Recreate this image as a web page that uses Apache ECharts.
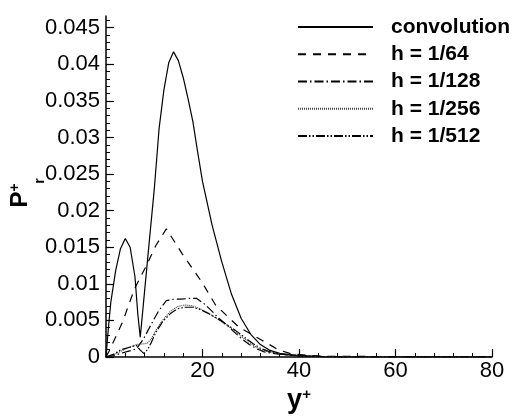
<!DOCTYPE html>
<html>
<head>
<meta charset="utf-8">
<script src="https://cdn.jsdelivr.net/npm/echarts@6/dist/echarts.min.js"></script>
<style>
  html, body { margin: 0; padding: 0; background: #fff; }
  #chart { width: 522px; height: 419px; }
</style>
</head>
<body>
<div id="chart"></div>
<script>
// Distribution P_r^+ versus wall distance y^+
const yTickLabels = [0, 0.005, 0.01, 0.015, 0.02, 0.025, 0.03, 0.035, 0.04, 0.045];
const xTickLabels = [20, 40, 60, 80];

const seriesNames = ['convolution', 'h = 1/64', 'h = 1/128', 'h = 1/256', 'h = 1/512'];

const convX = [0, 0.5, 1, 2, 3, 4, 5, 6, 6.6, 7.1, 8, 9, 10, 11, 12, 13, 14, 15, 16, 17, 18, 19, 20, 22, 24, 26, 28, 30, 32, 34, 36, 40, 45, 50, 80];
const convY = [0, 0.004, 0.0075, 0.0118, 0.0148, 0.0162, 0.0150, 0.0110, 0.0058, 0.0027, 0.0090, 0.0160, 0.0229, 0.0312, 0.0365, 0.0402, 0.0417, 0.0405, 0.0382, 0.0353, 0.0322, 0.0280, 0.0240, 0.0180, 0.0130, 0.0086, 0.0053, 0.0031, 0.0017, 0.0009, 0.0005, 0.0002, 0.00005, 0, 0];

const h64X = [0, 0.8, 3.5, 5.9, 8.3, 10.3, 12.5, 15.8, 19.9, 22.7, 27.5, 32.3, 35.7, 38.5, 45, 80];
const h64Y = [0, 0.001, 0.0049, 0.0093, 0.0124, 0.0152, 0.0175, 0.0141, 0.0102, 0.0071, 0.0041, 0.0023, 0.0010, 0.0004, 0.0001, 0];

const h128X = [0, 1.6, 3.1, 4.7, 6.3, 7.8, 9.4, 10.9, 12.5, 14.1, 15.6, 17.2, 18.8, 20.3, 21.9, 23.4, 25, 26.6, 28.1, 29.7, 31.3, 32.8, 34.4, 37.5, 40.6, 50, 80];
const h128Y = [0, 0.0002, 0.0005, 0.0008, 0.0011, 0.0025, 0.0045, 0.0063, 0.0077, 0.0079, 0.0079, 0.0080, 0.0080, 0.0073, 0.0063, 0.0053, 0.0044, 0.0034, 0.0025, 0.0017, 0.0011, 0.0007, 0.0005, 0.0003, 0.0001, 0, 0];

const h256X = [0, 1.6, 3.1, 4.7, 6.3, 7.8, 8.6, 9.4, 10.2, 11.7, 13.3, 14.8, 16.4, 18, 19.5, 21.1, 22.7, 24.2, 25.8, 27.3, 28.9, 30.5, 32, 33.6, 35.2, 37.5, 40, 45, 50, 80];
const h256Y = [0, 0.0003, 0.0008, 0.0013, 0.0017, 0.0018, 0.0019, 0.0025, 0.0035, 0.0050, 0.0062, 0.0069, 0.0071, 0.0070, 0.0066, 0.0060, 0.0054, 0.0047, 0.0040, 0.0032, 0.0024, 0.0016, 0.0010, 0.0007, 0.0005, 0.0003, 0.0002, 0.00005, 0, 0];

const h512X = [0, 1.6, 3.1, 4.7, 6.3, 7.0, 7.8, 8.6, 9.4, 10.2, 11.7, 13.3, 14.8, 16.4, 18, 19.5, 21.1, 22.7, 24.2, 25.8, 27.3, 28.9, 30.5, 32, 33.6, 35.2, 37.5, 40, 45, 50, 80];
const h512Y = [0, 0.0004, 0.0010, 0.0013, 0.0016, 0.0010, 0.0005, 0.0010, 0.0020, 0.0032, 0.0048, 0.0059, 0.0066, 0.0068, 0.0068, 0.0065, 0.0060, 0.0054, 0.0048, 0.0041, 0.0034, 0.0026, 0.0018, 0.0012, 0.0008, 0.0005, 0.0003, 0.0002, 0.00005, 0, 0];

const FONT = "'Liberation Sans', Arial, Helvetica, sans-serif";
const Y_MAX = 0.0466;

function pairs(xs, ys) {
  return xs.map((x, i) => [x, ys[i]]);
}

// minor ticks every 0.001 on y
const yMinorTicks = [];
for (let k = 0; k <= 46; k++) yMinorTicks.push(+(k * 0.001).toFixed(3));

function lineSeries(name, xs, ys, type, color) {
  const c = color || '#000';
  return {
    name: name,
    type: 'line',
    data: pairs(xs, ys),
    symbol: 'none',
    showSymbol: false,
    smooth: false,
    animation: false,
    itemStyle: { color: c },
    lineStyle: { color: c, width: 1.2, type: type }
  };
}

const chart = echarts.init(document.getElementById('chart'), null, { renderer: 'canvas' });

chart.setOption({
  backgroundColor: '#fff',
  animation: false,
  grid: { left: 103, right: 30, top: 16, bottom: 48, containLabel: false },
  legend: {
    orient: 'vertical',
    left: 297,
    top: 16.5,
    padding: 0,
    itemWidth: 75,
    itemHeight: 14,
    itemGap: 6.25,
    data: seriesNames,
    itemStyle: { opacity: 0 },
    textStyle: {
      fontFamily: FONT, fontSize: 21, fontWeight: 'bold', color: '#000',
      lineHeight: 21, padding: [0, 0, 0, 13]
    }
  },
  xAxis: {
    type: 'value',
    min: 0, max: 80, interval: 20,
    name: '{y|y}{s|+}',
    nameLocation: 'middle',
    nameGap: 30,
    nameTextStyle: {
      rich: {
        y: { fontFamily: FONT, fontSize: 27, fontWeight: 'bold', color: '#000' },
        s: { fontFamily: FONT, fontSize: 15, fontWeight: 'bold', color: '#000', verticalAlign: 'top' }
      }
    },
    axisLine: { show: true, lineStyle: { color: '#000', width: 1.5 } },
    axisTick: { show: true, inside: true, length: 8, lineStyle: { color: '#000', width: 1.2 } },
    minorTick: { show: true, splitNumber: 5, length: 4, lineStyle: { color: '#000', width: 1 } },
    axisLabel: {
      fontFamily: FONT, fontSize: 22, color: '#000', margin: 3,
      customValues: xTickLabels
    },
    splitLine: { show: false },
    minorSplitLine: { show: false }
  },
  yAxis: [
    {
      type: 'value',
      min: 0, max: Y_MAX, interval: 0.005,
      position: 'left',
      name: '{p|P}{s|+}',
      nameLocation: 'middle',
      nameRotate: 90,
      nameGap: 74,
      nameTextStyle: {
        rich: {
          p: { fontFamily: FONT, fontSize: 24, fontWeight: 'bold', color: '#000' },
          s: { fontFamily: FONT, fontSize: 14, fontWeight: 'bold', color: '#000', verticalAlign: 'top', padding: [0, 18, 0, 0] }
        }
      },
      axisLine: { show: true, lineStyle: { color: '#000', width: 1.5 } },
      axisTick: { show: true, inside: true, length: 8, customValues: yTickLabels, lineStyle: { color: '#000', width: 1.2 } },
      axisLabel: {
        fontFamily: FONT, fontSize: 22, color: '#000', margin: 6,
        customValues: yTickLabels,
        formatter: v => String(+v.toFixed(3))
      },
      splitLine: { show: false }
    },
    {
      type: 'value',
      min: 0, max: Y_MAX, interval: 0.001,
      position: 'left',
      offset: 0,
      axisLine: { show: false },
      axisTick: { show: true, inside: true, length: 4, customValues: yMinorTicks, lineStyle: { color: '#000', width: 1 } },
      axisLabel: { show: false },
      splitLine: { show: false }
    }
  ],
  graphic: [
    {
      type: 'text',
      x: 40, y: 181,
      rotation: Math.PI / 2,
      style: { text: 'r', font: "bold 14px 'Liberation Sans', Arial, sans-serif", fill: '#000', align: 'center', verticalAlign: 'middle' }
    }
  ],
  series: [
    lineSeries(seriesNames[0], convX, convY, 'solid'),
    lineSeries(seriesNames[1], h64X, h64Y, [8, 7]),
    lineSeries(seriesNames[2], h128X, h128Y, [9, 3, 1.5, 3]),
    lineSeries(seriesNames[3], h256X, h256Y, [1, 1], '#444'),
    lineSeries(seriesNames[4], h512X, h512Y, [9, 2, 1.5, 2, 1.5, 2])
  ]
});
</script>
</body>
</html>
